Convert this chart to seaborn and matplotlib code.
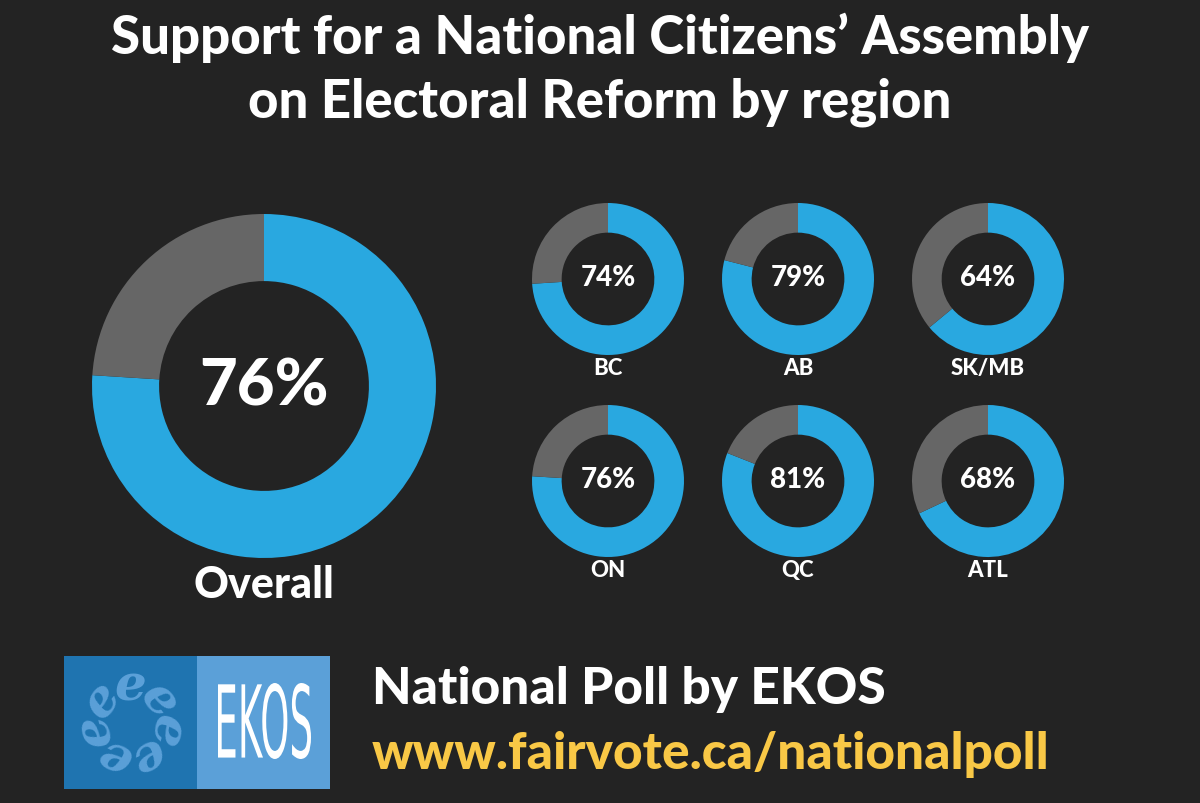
import matplotlib.pyplot as plt
import seaborn as sns
import numpy as np
from matplotlib.textpath import TextPath
from matplotlib.patches import PathPatch, Rectangle
from matplotlib.font_manager import FontProperties
from matplotlib.transforms import Affine2D

# datos
overall = 76
regiones = ['BC', 'AB', 'SK/MB', 'ON', 'QC', 'ATL']
apoyo = [74, 79, 64, 76, 81, 68]

titulo = 'Support for a National Citizens\u2019 Assembly\non Electoral Reform by region'
fuente_linea1 = 'National Poll by EKOS'
fuente_linea2 = 'www.fairvote.ca/nationalpoll'

FONDO = '#232323'
AZUL = '#29A8E0'
GRIS = '#666666'
PESO = 900

sns.set_theme(style='dark')
plt.rcParams['font.family'] = ['Lato', 'DejaVu Sans']

W, H = 1200, 804
fig = plt.figure(figsize=(W / 100, H / 100), dpi=100, facecolor=FONDO)


def dona(cx, cy, r, valor, ancho=0.39):
    ax = fig.add_axes([(cx - r) / W, (H - cy - r) / H, 2 * r / W, 2 * r / H])
    ax.pie([valor, 100 - valor], colors=[AZUL, GRIS], startangle=90,
           counterclock=False, radius=1,
           wedgeprops=dict(width=ancho, edgecolor='none'))
    ax.set_xlim(-1, 1)
    ax.set_ylim(-1, 1)
    ax.set_aspect('equal')
    ax.axis('off')
    return ax


# dona grande
ax = dona(264, 387, 172, overall)
ax.text(0, 0, f'{overall}%', ha='center', va='center', color='white',
        fontsize=47, fontweight=PESO)

# donas pequeñas
cols = [608, 798, 988]
filas = [280, 482]
for i, (reg, val) in enumerate(zip(regiones, apoyo)):
    cx = cols[i % 3]
    cy = filas[i // 3]
    a = dona(cx, cy, 76, val)
    a.text(0, 0.02, f'{val}%', ha='center', va='center', color='white',
           fontsize=20, fontweight=PESO)

# capa de texto en píxeles
top = fig.add_axes([0, 0, 1, 1], facecolor='none')
top.set_xlim(0, W)
top.set_ylim(H, 0)
top.axis('off')

top.text(600, 70, titulo, ha='center', va='center', color='white',
         fontsize=38, fontweight=PESO, linespacing=1.35)

top.text(264, 585, 'Overall', ha='center', va='center', color='white',
         fontsize=31, fontweight=PESO)
for i, reg in enumerate(regiones):
    cx = cols[i % 3]
    cy = filas[i // 3]
    top.text(cx, cy + 89, reg, ha='center', va='center', color='white',
             fontsize=16, fontweight=PESO)

# logo EKOS
top.add_patch(Rectangle((64, 657), 133, 133, color='#1F74B0', lw=0))
top.add_patch(Rectangle((197, 657), 133, 133, color='#5BA0D8', lw=0))
tp = TextPath((0, 0), 'EKOS', size=100, prop=FontProperties(family='DejaVu Sans'))
bb = tp.get_extents()
sx = 93 / bb.width
sy = 76 / bb.height
tr = Affine2D().translate(-bb.x0, -bb.y0).scale(sx, -sy).translate(218, 760)
top.add_patch(PathPatch(tr.transform_path(tp), color='white', lw=0))

for k in range(7):
    ang = np.pi / 2 - k * 2 * np.pi / 7
    ex = 130 + 36 * np.cos(ang)
    ey = 723 - 36 * np.sin(ang)
    top.text(ex, ey, 'e', ha='center', va='center', color='#5BA0D8',
             fontsize=36, fontweight='bold', fontstyle='italic',
             rotation=np.degrees(ang) - 90, family='DejaVu Serif')

top.text(372, 690, fuente_linea1, ha='left', va='center', color='white',
         fontsize=37, fontweight=PESO)
top.text(372, 755, fuente_linea2, ha='left', va='center', color='#F9C846',
         fontsize=37, fontweight=PESO)

fig.savefig('out.png', dpi=100, facecolor=FONDO)
